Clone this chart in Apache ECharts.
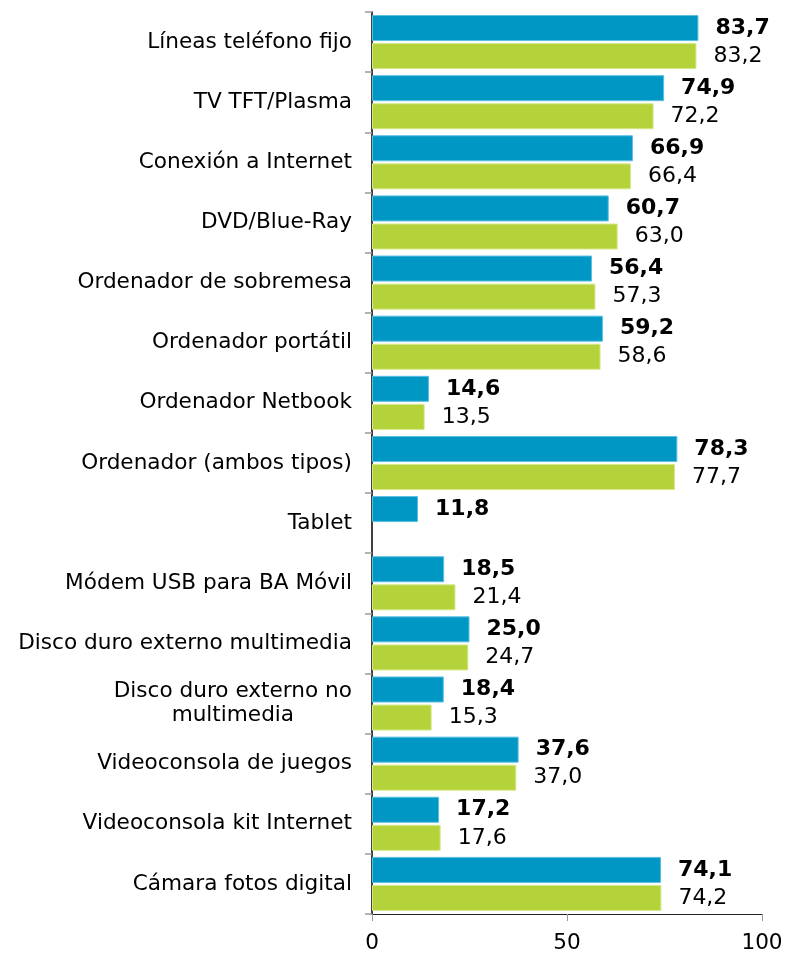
<!DOCTYPE html>
<html>
<head>
<meta charset="utf-8">
<script src="https://cdn.jsdelivr.net/npm/echarts@6/dist/echarts.min.js"></script>
<style>
  html, body { margin: 0; padding: 0; background: #fff; }
  #chart { width: 786px; height: 954px; }
</style>
</head>
<body>
<div id="chart"></div>
<script>
// categories, top to bottom
const categories = [
  'Líneas teléfono fijo',
  'TV TFT/Plasma',
  'Conexión a Internet',
  'DVD/Blue-Ray',
  'Ordenador de sobremesa',
  'Ordenador portátil',
  'Ordenador Netbook',
  'Ordenador (ambos tipos)',
  'Tablet',
  'Módem USB para BA Móvil',
  'Disco duro externo multimedia',
  'Disco duro externo no\nmultimedia',
  'Videoconsola de juegos',
  'Videoconsola kit Internet',
  'Cámara fotos digital'
];
const seriesBlue = [83.7, 74.9, 66.9, 60.7, 56.4, 59.2, 14.6, 78.3, 11.8, 18.5, 25.0, 18.4, 37.6, 17.2, 74.1];
const seriesGreen = [83.2, 72.2, 66.4, 63.0, 57.3, 58.6, 13.5, 77.7, null, 21.4, 24.7, 15.3, 37.0, 17.6, 74.2];
const xTicks = [0, 50, 100];

const chart = echarts.init(document.getElementById('chart'));

const fmt = p => p.value == null ? '' : p.value.toFixed(1).replace('.', ',');

chart.setOption({
  backgroundColor: '#fff',
  animation: false,
  textStyle: { fontFamily: 'DejaVu Sans' },
  grid: { left: 372, right: 24, top: 12, bottom: 40 },
  xAxis: {
    type: 'value',
    min: xTicks[0],
    max: xTicks[xTicks.length - 1],
    interval: 50,
    splitLine: { show: false },
    axisLine: { show: true, lineStyle: { color: '#222', width: 1 } },
    axisTick: { show: true, length: 7, lineStyle: { color: '#999' } },
    axisLabel: { color: '#000', fontSize: 21.6, margin: 18 }
  },
  yAxis: {
    type: 'category',
    inverse: true,
    data: categories,
    axisLine: { show: true, lineStyle: { color: '#000', width: 1.5 } },
    axisTick: { show: true, length: 7, lineStyle: { color: '#999', width: 1.5 } },
    axisLabel: {
      color: '#000', margin: 20, align: 'right',
      formatter: v => v.split('\n').map(s => '{c|' + s + '}').join('\n'),
      rich: { c: { fontSize: 21.6, lineHeight: 24, align: 'center', color: '#000', fontFamily: 'DejaVu Sans' } }
    }
  },
  series: [
    {
      name: 'A',
      type: 'bar',
      data: seriesBlue,
      barWidth: 26,
      barGap: '8%',
      itemStyle: { color: '#0097c4', borderColor: '#59bfe0', borderWidth: 1 },
      label: {
        show: true, position: 'right', distance: 17,
        color: '#000', fontSize: 22, fontWeight: 'bold', formatter: fmt
      }
    },
    {
      name: 'B',
      type: 'bar',
      data: seriesGreen,
      barWidth: 26,
      itemStyle: { color: '#b4d33a', borderColor: '#d6e88a', borderWidth: 1 },
      label: {
        show: true, position: 'right', distance: 17,
        color: '#000', fontSize: 22, formatter: fmt
      }
    }
  ]
});
</script>
</body>
</html>
